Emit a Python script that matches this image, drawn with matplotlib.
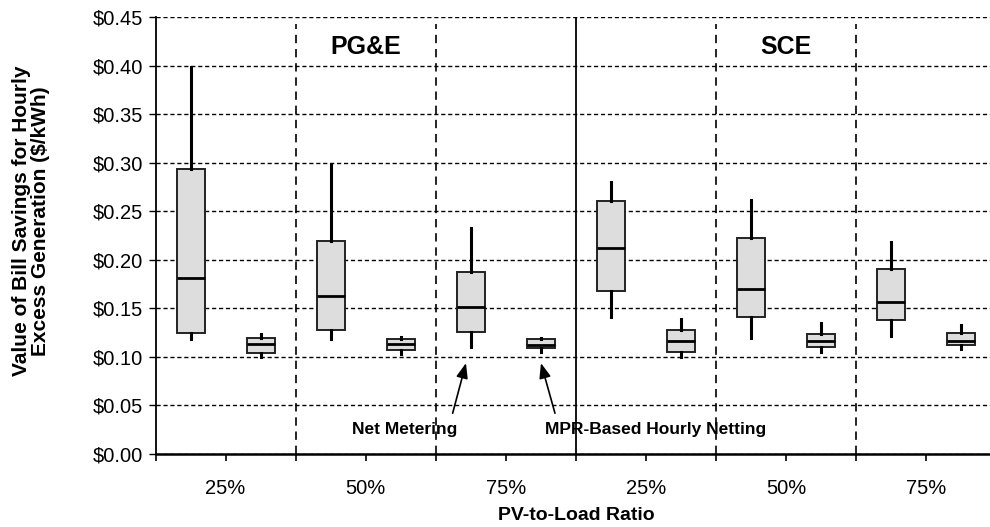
import matplotlib
matplotlib.use("Agg")
import matplotlib.pyplot as plt
import numpy as np

plt.rcParams["font.family"] = ["Liberation Sans", "DejaVu Sans"]

# one entry per box: PG&E 25/50/75 %, then SCE 25/50/75 %, NM then MPR
utilities = ["PG&E", "SCE"]
ratio_labels = ["25%", "50%", "75%", "25%", "50%", "75%"]
methods = ["Net Metering", "MPR-Based Hourly Netting"]
whis_hi = [0.398, 0.124, 0.299, 0.120, 0.233, 0.119, 0.280, 0.139, 0.262, 0.135, 0.218, 0.133]
q3 = [0.293, 0.119, 0.219, 0.118, 0.187, 0.118, 0.261, 0.128, 0.222, 0.124, 0.190, 0.125]
med = [0.181, 0.113, 0.163, 0.113, 0.151, 0.112, 0.212, 0.116, 0.170, 0.116, 0.157, 0.116]
q1 = [0.125, 0.104, 0.128, 0.107, 0.126, 0.109, 0.168, 0.105, 0.141, 0.110, 0.138, 0.112]
whis_lo = [0.118, 0.100, 0.118, 0.103, 0.110, 0.105, 0.141, 0.100, 0.119, 0.105, 0.121, 0.108]

stats = [dict(med=m, q1=a, q3=b, whislo=lo, whishi=hi, fliers=[])
         for m, a, b, lo, hi in zip(med, q1, q3, whis_lo, whis_hi)]
pos = np.arange(len(stats)) + 0.5

fig = plt.figure(figsize=(9.9, 5.27), dpi=100)
ax = fig.add_axes([155.5 / 990, 73 / 527, 841 / 990, 437 / 527])

ax.set_axisbelow(True)
ax.yaxis.grid(True, color="black", linestyle=(0, (3, 2)), linewidth=1.0)

ax.bxp(stats, positions=pos, widths=0.4, showcaps=False, showfliers=False,
       patch_artist=True,
       boxprops=dict(facecolor="#dddddd", edgecolor="#222222", linewidth=1.4),
       whiskerprops=dict(color="black", linewidth=2.2),
       medianprops=dict(color="black", linewidth=2.0))

# group separators
for xs in (2, 4, 8, 10):
    ax.axvline(xs, ymin=0, ymax=0.985, color="black", linestyle=(0, (5, 3.5)),
               linewidth=1.2, zorder=1)
ax.axvline(6, color="black", linewidth=1.3, zorder=1)

ax.set_xlim(0, 12)
ax.set_ylim(0, 0.45)
ax.set_yticks(np.arange(0, 0.46, 0.05))
ax.set_yticklabels([f"${v:.2f}" for v in np.arange(0, 0.46, 0.05)])
ax.set_xticks(np.arange(13))
xl = [""] * 13
for i, lab in enumerate(ratio_labels):
    xl[2 * i + 1] = lab
ax.set_xticklabels(xl)
ax.tick_params(axis="x", direction="out", length=5, width=1.2, pad=13, labelsize=14.5)
ax.tick_params(axis="y", direction="out", length=5, width=1.0, pad=4, labelsize=14.5)

for s in ("top", "right"):
    ax.spines[s].set_visible(False)
ax.spines["left"].set_linewidth(1.3)
ax.spines["bottom"].set_linewidth(1.8)

ax.text(3, 0.419, utilities[0], ha="center", va="center", fontsize=18, fontweight="bold")
ax.text(9, 0.419, utilities[1], ha="center", va="center", fontsize=18, fontweight="bold")

ax.text(3.56, 0.025, methods[0], ha="center", va="center", fontsize=12.5, fontweight="bold")
ax.text(7.14, 0.025, methods[1], ha="center", va="center", fontsize=12.5, fontweight="bold")
arrow = dict(arrowstyle="-|>,head_length=0.9,head_width=0.35", color="black", lw=1.2,
             shrinkA=0, shrinkB=0)
ax.annotate("", xy=(4.43, 0.0936), xytext=(4.24, 0.042), arrowprops=arrow)
ax.annotate("", xy=(5.50, 0.0936), xytext=(5.70, 0.042), arrowprops=arrow)

fig.text(576 / 990, 1 - 515 / 527, "PV-to-Load Ratio", ha="center", va="center",
         fontsize=14, fontweight="bold")
fig.text(31 / 990, 1 - 221 / 527,
         "Value of Bill Savings for Hourly\nExcess Generation ($/kWh)",
         rotation=90, ha="center", va="center", multialignment="center",
         fontsize=15, fontweight="bold", linespacing=1.0)

fig.savefig("out.png", dpi=100)
